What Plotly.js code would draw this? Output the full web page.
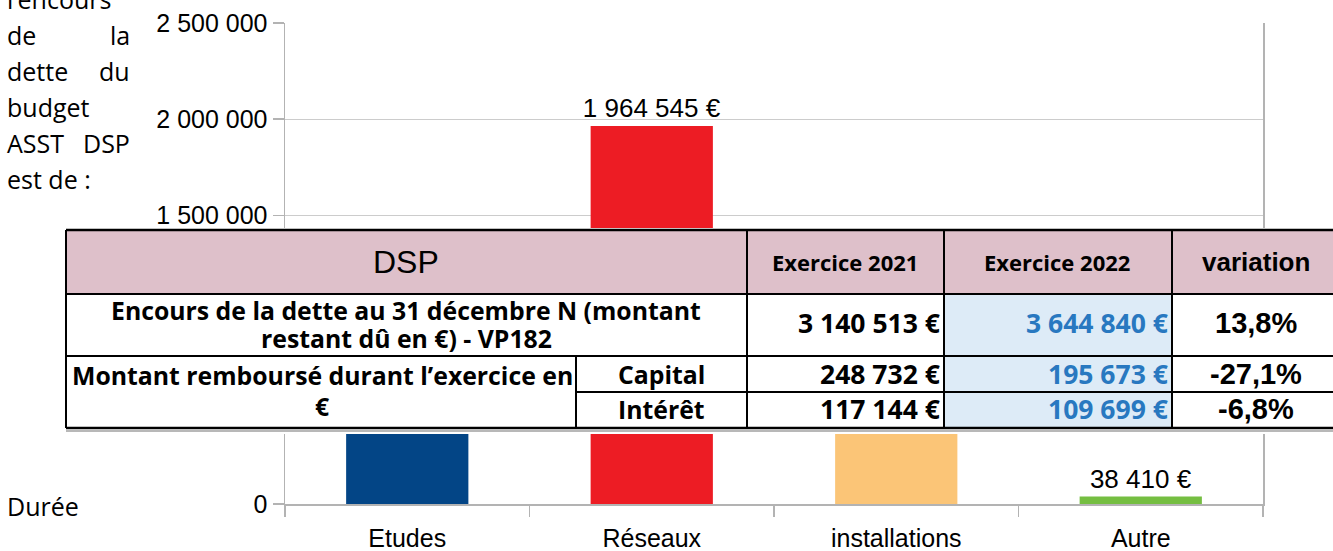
<!DOCTYPE html>
<html>
<head>
<meta charset="utf-8">
<script src="https://cdn.plot.ly/plotly-3.0.1.min.js"></script>
<style>
  html, body { margin: 0; padding: 0; background: #fff; }
  #chart { width: 1333px; height: 551px; }
</style>
</head>
<body>
<div id="chart"></div>
<script>
// ---- Chart data ----
const categories = ['Etudes', 'Réseaux', 'installations', 'Autre'];
const amounts = [861230, 1964545, 780655, 38410]; // Etudes & installations hidden by the table: estimated
const barColors = ['#034586', '#ED1C24', '#FBC577', '#75BE41'];
const yTicks = [0, 500000, 1000000, 1500000, 2000000, 2500000];

// ---- Side text ----
const sideLines = [['l’encours', ''], ['de', 'la'], ['dette', 'du'], ['budget', ''], ['ASST', 'DSP'], ['est de :', '']];
const sideFooter = 'Durée';

// ---- Table data ----
const tableHeader = ['DSP', 'Exercice 2021', 'Exercice 2022', 'variation'];
const rowLabel1 = ['Encours de la dette au 31 décembre N (montant', 'restant dû en €) - VP182'];
const rowLabel2 = ['Montant remboursé durant l’exercice en', '€'];
const subLabels = ['Capital', 'Intérêt'];
const values2021 = [3140513, 248732, 117144];
const values2022 = [3644840, 195673, 109699];
const variations = ['13,8%', '-27,1%', '-6,8%'];

// ---- Geometry helpers (page pixels -> paper) ----
const W = 1333, H = 551, L = 285, R = 1263, T = 23, B = 504;
const px = x => (x - L) / (R - L);
const py = y => (B - y) / (B - T);
const euro = n => String(n).replace(/\B(?=(\d{3})+(?!\d))/g, ' ') + ' €';

const AR = 'Liberation Sans, Arial, sans-serif';
const CAL = 'Open Sans, Lato, sans-serif';
const BLUE = '#2878C0';

const shapes = [];
function rect(x0, y0, x1, y1, fill) {
  shapes.push({type: 'rect', xref: 'paper', yref: 'paper', layer: 'above',
    x0: px(x0), x1: px(x1), y0: py(y1), y1: py(y0), fillcolor: fill, line: {width: 0}});
}
function line(x0, y0, x1, y1, w, c) {
  shapes.push({type: 'line', xref: 'paper', yref: 'paper', layer: 'above',
    x0: px(x0), x1: px(x1), y0: py(y0), y1: py(y1), line: {color: c || '#000', width: w || 2}});
}
// table cells
const cx = [66, 576, 747, 944, 1172, 1345];
const ry = [230, 294, 356, 392, 428];
rect(66, 228, 1345, 434, '#ffffff');
rect(66, ry[0], 1345, ry[1], '#DEC0CA');
rect(cx[3], ry[1], cx[4], ry[4], '#DDEBF7');
line(66, ry[0], 1345, ry[0], 2.5);
line(66, ry[1], 1345, ry[1], 2);
line(66, ry[2], 1345, ry[2], 2);
line(cx[1], ry[3], 1345, ry[3], 2);
line(66, ry[4], 1345, ry[4], 2.5);
line(66, ry[4] + 3, 1345, ry[4] + 3, 1.5, '#a0a0a0');
line(cx[0], ry[0], cx[0], ry[4], 2);
line(cx[2], ry[0], cx[2], ry[4], 2);
line(cx[3], ry[0], cx[3], ry[4], 2);
line(cx[4], ry[0], cx[4], ry[4], 2);
line(cx[1], ry[2], cx[1], ry[4], 2);

const annotations = [];
function txt(text, x, y, opts) {
  opts = opts || {};
  annotations.push({text: text, xref: 'paper', yref: 'paper', x: px(x), y: py(y),
    xanchor: opts.xa || 'center', yanchor: 'middle', showarrow: false, align: opts.align || 'center',
    borderpad: 0,
    font: {family: opts.f || CAL, size: opts.s || 24, color: opts.c || '#000', weight: opts.w || 'normal'}});
}
// side text
const sideY = [-1, 35, 71, 107, 143, 179];
sideLines.forEach((pair, i) => {
  txt(pair[0], 6, sideY[i], {xa: 'left', s: 25});
  if (pair[1]) txt(pair[1], 131, sideY[i], {xa: 'right', s: 25});
});
txt(sideFooter, 6, 506, {xa: 'left', s: 25});

// header
txt(tableHeader[0], 406, 262, {f: AR, s: 32});
txt(tableHeader[1], 845, 262, {s: 22, w: 'bold'});
txt(tableHeader[2], 1057, 262, {s: 22, w: 'bold'});
txt(tableHeader[3], 1256, 262, {f: AR, s: 26, w: 'bold'});
// rows
const LS = 24.8, VS = 26.5;
txt(rowLabel1[0], 406, 310, {s: LS, w: 'bold'});
txt(rowLabel1[1], 406, 338, {s: LS, w: 'bold'});
txt(rowLabel2[0], 322, 375, {s: LS, w: 'bold'});
txt(rowLabel2[1], 322, 406, {s: LS, w: 'bold'});
txt(subLabels[0], 661, 374, {s: LS, w: 'bold'});
txt(subLabels[1], 661, 409, {s: LS, w: 'bold'});
const rowCenters = [323, 374, 409];
for (let i = 0; i < 3; i++) {
  txt(euro(values2021[i]), 941, rowCenters[i], {xa: 'right', s: VS, w: 'bold'});
  txt(euro(values2022[i]), 1169, rowCenters[i], {xa: 'right', s: VS, w: 'bold', c: BLUE});
  txt(variations[i], 1256, rowCenters[i], {f: AR, s: 29, w: 'bold'});
}

const trace = {
  type: 'bar', x: categories, y: amounts, width: 0.5,
  marker: {color: barColors, line: {width: 0}},
  texttemplate: '%{y:,.0f} €', textposition: 'outside', constraintext: 'none', cliponaxis: false,
  textfont: {family: AR, size: 26, color: '#000'}, hoverinfo: 'skip'
};

const layout = {
  width: W, height: H, separators: ', ',
  margin: {l: L, r: W - R, t: T, b: H - B, autoexpand: false},
  paper_bgcolor: '#fff', plot_bgcolor: '#fff', showlegend: false,
  font: {family: AR, color: '#000'},
  xaxis: {type: 'category', showline: true, linecolor: '#b3b3b3', linewidth: 1.5,
    ticks: 'outside', tickson: 'boundaries', ticklen: 11, tickcolor: '#b3b3b3', tickwidth: 1.5,
    ticklabelstandoff: 11,
    showgrid: false, tickfont: {family: AR, size: 25, color: '#000'}, fixedrange: true},
  yaxis: {range: [0, 2500000], tickvals: yTicks, tickformat: ',.0f', showgrid: true, gridcolor: '#cccccc',
    showline: true, mirror: true, linecolor: '#b3b3b3', linewidth: 1.5, zeroline: false,
    ticks: 'outside', ticklen: 11, tickcolor: '#b3b3b3', tickwidth: 1.5,
    tickfont: {family: AR, size: 25, color: '#000'}, fixedrange: true},
  shapes: shapes, annotations: annotations
};

Plotly.newPlot('chart', [trace], layout, {staticPlot: true, displayModeBar: false});
</script>
</body>
</html>
